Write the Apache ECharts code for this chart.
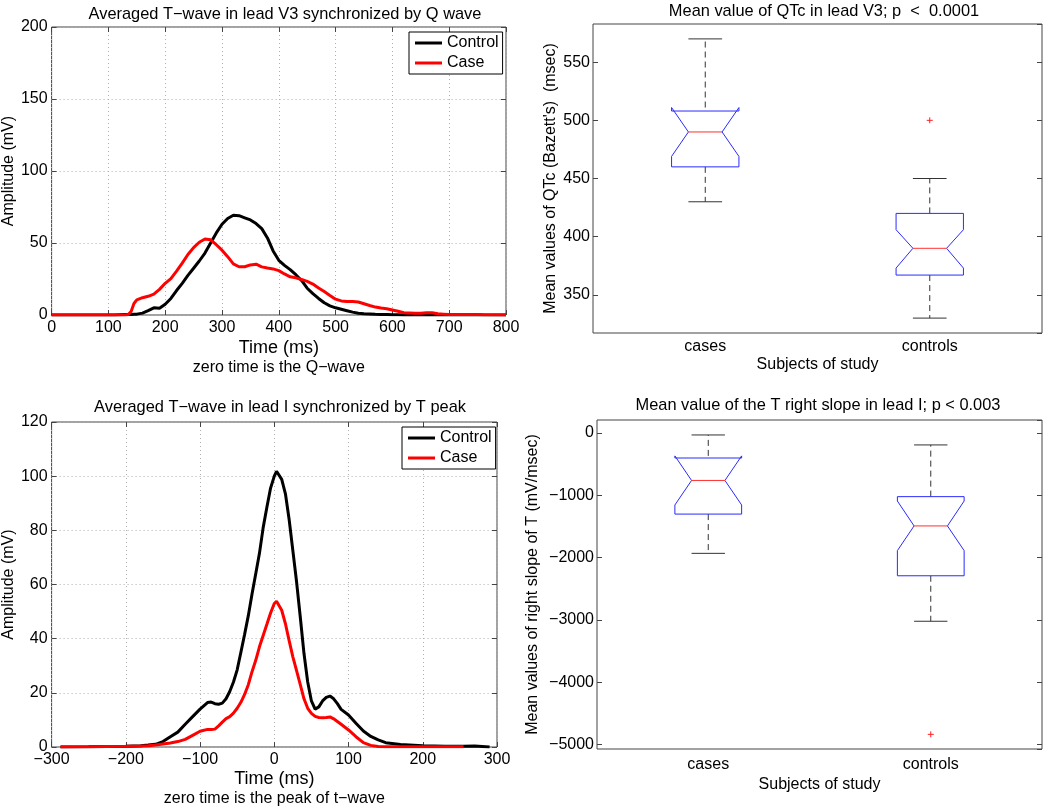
<!DOCTYPE html>
<html>
<head>
<meta charset="utf-8">
<script src="https://cdn.jsdelivr.net/npm/echarts@6/dist/echarts.min.js"></script>
<style>html,body{margin:0;padding:0;background:#fff;}#c{width:1050px;height:808px;}</style>
</head>
<body>
<div id="c"></div>
<script>
// ---- Top-left: averaged T-wave in lead V3 synchronized by Q wave ----
const qTime = [0,100,110,120,130,135,140,145,150,160,170,180,190,200,210,220,230,240,250,260,270,280,290,300,310,320,330,340,350,360,370,380,390,400,410,420,430,440,450,460,470,480,490,500,510,520,530,540,550,560,570,580,590,600,610,620,630,640,650,660,670,680,690,700,750,760,800];
const qControl = [0,0,0,0.2,0.3,0.3,0.4,0.5,0.6,1.3,3,5,4.7,7.5,11.5,17,22,27.5,32.5,37.5,43,50,57,63,67,69.3,69,67.5,66,63.5,60,53.5,44.5,38,34.5,31.5,28,24,18.6,14.8,11.5,8.5,6.3,5,4,3,2,1.2,0.9,0.7,0.5,0.4,0.3,0.2,0.1,0,0,0,0,0,0,0,0,0,0,0,0];
const qCase = [0,0,0,0,0,0.3,2.5,8,10.5,12,13,14.5,17.8,22,25.3,30.5,36,42,46.8,50.5,52.8,52.2,48.8,45,40.5,35.5,33.5,33.5,34.8,35.3,33.4,32.6,32,30.8,28.5,26.5,25.8,24.7,23.3,21.5,18.8,16.3,13.6,11,9.8,9.3,9.3,9,7.8,6.6,5.5,4.8,4.4,3.5,2.6,1.6,1.4,1.2,1.2,1.5,1.5,0.8,0.6,0.4,0.4,0.2,0];
const qXTicks = {min: 0, max: 800, interval: 100};
const qYTicks = {min: 0, max: 200, interval: 50};

// ---- Bottom-left: averaged T-wave in lead I synchronized by T peak ----
const tTime = [-288,-250,-200,-180,-170,-160,-150,-140,-130,-120,-110,-100,-90,-85,-80,-75,-70,-65,-60,-55,-50,-45,-40,-35,-30,-25,-20,-15,-10,-5,0,3,5,10,15,20,25,30,35,40,45,50,55,60,65,70,75,80,85,90,100,110,120,130,140,150,170,200,230,255,270,290];
const tControl = [0,0.1,0.3,0.5,0.7,1,2,3.8,5.5,8.4,11.2,14,16.4,16.6,16,15.8,16.2,17.8,20.5,24,28.5,35,41.6,48.5,56.5,64,71.5,81,88.5,95.6,100,101.8,101.6,98.8,93.5,84,72.5,61,48,34.5,24,17,14,14.8,17,18.3,18.8,17.8,16,13.9,11.8,8.8,5.9,3.9,2.6,1.6,0.9,0.5,0.3,0.3,0.4,0];
const tCase = [0,0.1,0.3,0.4,0.5,0.7,1.1,1.5,2,2.8,4.3,5.8,6.5,6.5,6.6,7.8,9.2,10.5,11.2,12.5,14.3,16.5,19.4,23,27.8,32,37,41.2,45.3,49.5,53,53.8,53.5,50.5,45.5,39.3,33.3,28.2,23,17.8,14.3,12.4,11.3,10.9,10.8,10.9,11.1,10.4,9.4,8.4,6.3,3.8,1.6,0.6,0.2,0.1,0.1,0.1,0.1,0.1,null,null];
const tXTicks = {min: -300, max: 300, interval: 100};
const tYTicks = {min: 0, max: 120, interval: 20};

// ---- Top-right: QTc boxplot ----
const qtcCategories = ['cases', 'controls'];
const qtcWhiskerLow = [430, 330];
const qtcQ1 = [460, 367];
const qtcNotchLow = [469, 373];
const qtcMedian = [490, 390];
const qtcNotchHigh = [511, 406];
const qtcQ3 = [508, 420];
const qtcWhiskerHigh = [570, 450];
const qtcOutliers = [[1, 500]];
const qtcRange = {min: 317.2, max: 582.8, step: 50};

// ---- Bottom-right: T right slope boxplot ----
const slopeCategories = ['cases', 'controls'];
const slopeWhiskerLow = [-1930, -3020];
const slopeQ1 = [-1300, -2290];
const slopeNotchLow = [-1154, -1886];
const slopeMedian = [-760, -1490];
const slopeNotchHigh = [-366, -1090];
const slopeQ3 = [-400, -1020];
const slopeWhiskerHigh = [-30, -190];
const slopeOutliers = [[1, -4835]];
const slopeRange = {min: -5070, max: 210, step: 1000};

const FONT = 'Liberation Sans';
const FRAME = '#444';
const minus = v => (v < 0 ? '\u2212' + Math.abs(v) : String(v));

function zip(xs, ys) { return xs.map((x, i) => [x, ys[i]]); }
function boxData(w0, q1, n0, m, n1, q3, w1) {
  return w0.map((_, i) => [i, w0[i], q1[i], n0[i], m[i], n1[i], q3[i], w1[i]]);
}

function boxRender(params, api) {
  const xi = api.value(0);
  const band = api.size([1, 0])[0];
  const hw = band * 0.15, nw = band * 0.075, cw = band * 0.075;
  const yy = i => api.coord([xi, api.value(i)])[1];
  const cx = api.coord([xi, api.value(4)])[0];
  const wLo = yy(1), q1 = yy(2), nLo = yy(3), med = yy(4), nHi = yy(5), q3 = yy(6), wHi = yy(7);
  const L = cx - hw, R = cx + hw, iL = cx - nw, iR = cx + nw;
  const dash = {stroke: '#333', lineWidth: 1, lineDash: [6, 4]};
  const solid = {stroke: '#333', lineWidth: 1};
  return {
    type: 'group',
    children: [
      {type: 'line', shape: {x1: cx, y1: Math.min(q3, nHi), x2: cx, y2: wHi}, style: dash},
      {type: 'line', shape: {x1: cx, y1: q1, x2: cx, y2: wLo}, style: dash},
      {type: 'line', shape: {x1: cx - cw, y1: wHi, x2: cx + cw, y2: wHi}, style: solid},
      {type: 'line', shape: {x1: cx - cw, y1: wLo, x2: cx + cw, y2: wLo}, style: solid},
      {type: 'polyline', shape: {points: [[L, q1], [L, nLo], [iL, med], [L, nHi], [L, q3], [R, q3], [R, nHi], [iR, med], [R, nLo], [R, q1], [L, q1]]},
        style: {stroke: '#2a2aff', fill: null, lineWidth: 1}},
      {type: 'line', shape: {x1: iL, y1: med, x2: iR, y2: med}, style: {stroke: '#ff3030', lineWidth: 1}}
    ]
  };
}
function plusRender(params, api) {
  const p = api.coord([api.value(0), api.value(1)]);
  const s = 3;
  return {type: 'group', children: [
    {type: 'line', shape: {x1: p[0] - s, y1: p[1], x2: p[0] + s, y2: p[1]}, style: {stroke: '#ff2020', lineWidth: 1}},
    {type: 'line', shape: {x1: p[0], y1: p[1] - s, x2: p[0], y2: p[1] + s}, style: {stroke: '#ff2020', lineWidth: 1}}
  ]};
}

const noLine = {show: false, onZero: false};
const tick = {show: true, inside: true, length: 5, lineStyle: {color: FRAME}};
const label = (m, extra) => Object.assign({fontFamily: FONT, fontSize: 16, color: '#000', margin: m}, extra || {});
const dotted = {show: true, lineStyle: {color: '#b0b0b0', type: [1, 3], width: 1}};

function valueAxisX(grid, t, name, sub, gap, lm) {
  return {
    gridIndex: grid, type: 'value', min: t.min, max: t.max, interval: t.interval,
    axisLine: noLine, axisTick: tick, axisLabel: label(lm, {formatter: minus}), splitLine: dotted,
    name: '{a|' + name + '}\n{b|' + sub + '}', nameLocation: 'middle', nameGap: gap,
    nameTextStyle: {rich: {a: {fontFamily: FONT, fontSize: 18, lineHeight: 20, color: '#000'},
                           b: {fontFamily: FONT, fontSize: 16, lineHeight: 19, color: '#000'}}}
  };
}
function topAxisX(grid, t) {
  return {gridIndex: grid, type: 'value', position: 'top', min: t.min, max: t.max, interval: t.interval,
    axisLine: noLine, axisTick: tick, axisLabel: {show: false}, splitLine: {show: false}};
}
function valueAxisY(grid, t, name, gap) {
  return {gridIndex: grid, type: 'value', min: t.min, max: t.max, interval: t.interval,
    axisLine: noLine, axisTick: tick, axisLabel: label(4), splitLine: dotted,
    name: name, nameLocation: 'middle', nameGap: gap,
    nameTextStyle: {fontFamily: FONT, fontSize: 16, color: '#000'}};
}
function rightAxisY(grid, t) {
  return {gridIndex: grid, type: 'value', position: 'right', min: t.min, max: t.max, interval: t.interval,
    axisLine: noLine, axisTick: tick, axisLabel: {show: false}, splitLine: {show: false}};
}
function boxAxisY(grid, r, name, gap, showLabels) {
  return {gridIndex: grid, type: 'value', min: r.min, max: r.max, minInterval: r.step, maxInterval: r.step,
    position: showLabels ? 'left' : 'right',
    axisLine: noLine, axisTick: tick,
    axisLabel: showLabels ? label(3, {formatter: minus, showMinLabel: false, showMaxLabel: false}) : {show: false},
    splitLine: {show: false},
    name: showLabels ? name : '', nameLocation: 'middle', nameGap: gap,
    nameTextStyle: {fontFamily: FONT, fontSize: 16, color: '#000'}};
}
function catAxisX(grid, cats, gap, lm) {
  return {gridIndex: grid, type: 'category', data: cats, boundaryGap: true,
    axisLine: noLine, axisTick: {show: false}, axisLabel: label(lm), splitLine: {show: false},
    name: 'Subjects of study', nameLocation: 'middle', nameGap: gap,
    nameTextStyle: {fontFamily: FONT, fontSize: 16, lineHeight: 18, color: '#000'}};
}
const gridBox = {show: true, borderColor: FRAME, borderWidth: 1, backgroundColor: 'transparent'};
const titleStyle = {fontFamily: FONT, fontSize: 16.4, fontWeight: 'normal', color: '#000'};
const legendBase = {orient: 'vertical', data: ['Control', 'Case'], icon: 'rect', itemWidth: 27, itemHeight: 3,
  itemGap: 2, itemTextGap: 4, borderColor: '#000', borderWidth: 1, backgroundColor: '#fff', padding: [2, 4, 2, 6],
  textStyle: {fontFamily: FONT, fontSize: 16, lineHeight: 18, color: '#000'}, selectedMode: false};
const lineBase = {type: 'line', showSymbol: false, symbol: 'none', animation: false, lineStyle: {width: 3}};

const option = {
  animation: false,
  backgroundColor: '#fff',
  title: [
    {text: 'Averaged T\u2212wave in lead V3 synchronized by Q wave', left: 280, top: 1, textAlign: 'center', textStyle: titleStyle},
    {text: 'Mean value of QTc in lead V3; p  <  0.0001', left: 819, top: -2, textAlign: 'center', textStyle: titleStyle},
    {text: 'Averaged T\u2212wave in lead I synchronized by T peak', left: 275, top: 394, textAlign: 'center', textStyle: titleStyle},
    {text: 'Mean value of the T right slope in lead I; p < 0.003', left: 813, top: 392, textAlign: 'center', textStyle: titleStyle}
  ],
  legend: [
    Object.assign({left: 409, top: 32}, legendBase),
    Object.assign({left: 402, top: 427}, legendBase)
  ],
  grid: [
    Object.assign({left: 50, top: 27, width: 456, height: 288}, gridBox),
    Object.assign({left: 593, top: 24, width: 449, height: 309}, gridBox),
    Object.assign({left: 49, top: 422, width: 448, height: 325}, gridBox),
    Object.assign({left: 597, top: 420, width: 445, height: 329}, gridBox)
  ],
  xAxis: [
    valueAxisX(0, qXTicks, 'Time (ms)', 'zero time is the Q\u2212wave', 23, 5),
    topAxisX(0, qXTicks),
    catAxisX(1, qtcCategories, 21, 6),
    valueAxisX(2, tXTicks, 'Time (ms)', 'zero time is the peak of t\u2212wave', 22, 5),
    topAxisX(2, tXTicks),
    catAxisX(3, slopeCategories, 27, 8)
  ],
  yAxis: [
    valueAxisY(0, qYTicks, 'Amplitude (mV)', 34),
    rightAxisY(0, qYTicks),
    boxAxisY(1, qtcRange, "Mean values of QTc (Bazett's)  (msec)", 34, true),
    boxAxisY(1, qtcRange, '', 0, false),
    valueAxisY(2, tYTicks, 'Amplitude (mV)', 33),
    rightAxisY(2, tYTicks),
    boxAxisY(3, slopeRange, 'Mean values of right slope of T (mV/msec)', 56, true),
    boxAxisY(3, slopeRange, '', 0, false)
  ],
  series: [
    Object.assign({name: 'Control', xAxisIndex: 0, yAxisIndex: 0, data: zip(qTime, qControl), color: '#000'}, lineBase),
    Object.assign({name: 'Case', xAxisIndex: 0, yAxisIndex: 0, data: zip(qTime, qCase), color: '#ff0000'}, lineBase),
    {type: 'custom', xAxisIndex: 2, yAxisIndex: 2, renderItem: boxRender,
      encode: {x: 0, y: [1, 2, 3, 4, 5, 6, 7]},
      data: boxData(qtcWhiskerLow, qtcQ1, qtcNotchLow, qtcMedian, qtcNotchHigh, qtcQ3, qtcWhiskerHigh)},
    {type: 'custom', xAxisIndex: 2, yAxisIndex: 2, renderItem: plusRender, encode: {x: 0, y: 1}, data: qtcOutliers},
    Object.assign({name: 'Control', xAxisIndex: 3, yAxisIndex: 4, data: zip(tTime, tControl), color: '#000'}, lineBase),
    Object.assign({name: 'Case', xAxisIndex: 3, yAxisIndex: 4, data: zip(tTime, tCase), color: '#ff0000', connectNulls: false}, lineBase),
    {type: 'custom', xAxisIndex: 5, yAxisIndex: 6, renderItem: boxRender,
      encode: {x: 0, y: [1, 2, 3, 4, 5, 6, 7]},
      data: boxData(slopeWhiskerLow, slopeQ1, slopeNotchLow, slopeMedian, slopeNotchHigh, slopeQ3, slopeWhiskerHigh)},
    {type: 'custom', xAxisIndex: 5, yAxisIndex: 6, renderItem: plusRender, encode: {x: 0, y: 1}, data: slopeOutliers}
  ]
};
const chart = echarts.init(document.getElementById('c'), null, {renderer: 'canvas'});
chart.setOption(option);
</script>
</body>
</html>
